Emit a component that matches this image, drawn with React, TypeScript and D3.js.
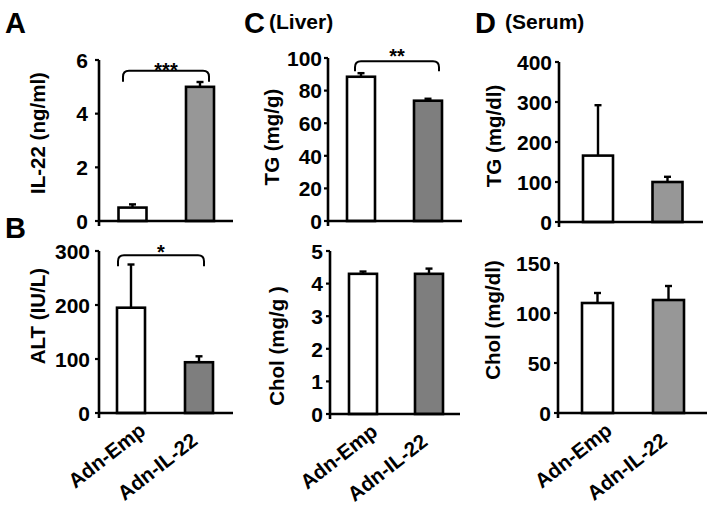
import React from "react";
import * as d3 from "d3";

// ---------- DATA ----------
const groups = ["Adn-Emp", "Adn-IL-22"];

const il22Mean = [0.5, 5.0];
const il22Err = [0.12, 0.18];
const il22Ticks = [0, 2, 4, 6];

const altMean = [195, 94];
const altErr = [80, 11];
const altTicks = [0, 100, 200, 300];

const liverTgMean = [88.5, 73.8];
const liverTgErr = [2.2, 1.2];
const liverTgTicks = [0, 20, 40, 60, 80, 100];

const liverCholMean = [4.3, 4.3];
const liverCholErr = [0.07, 0.16];
const liverCholTicks = [0, 1, 2, 3, 4, 5];

const serumTgMean = [166, 100];
const serumTgErr = [126, 13];
const serumTgTicks = [0, 100, 200, 300, 400];

const serumCholMean = [110, 113];
const serumCholErr = [10, 14];
const serumCholTicks = [0, 50, 100, 150];

const panelLetters = ["A", "B", "C", "D"];
const panelSubtitles = ["(Liver)", "(Serum)"];

// ---------- LAYOUT ----------
const FONT = "'Liberation Sans', Arial, Helvetica, sans-serif";
const GRAY_LIGHT = "#979797";
const GRAY_DARK = "#7e7e7e";

type PanelCfg = {
  mean: number[];
  err: number[];
  ticks: number[];
  yLabel: string;
  axisX: number;
  xEnd: number;
  y0: number;
  yTop: number;
  c1: number;
  c2: number;
  barW: number;
  fill: string;
  labelX: number;
  labelY: number;
  tickGap: number;
  showX?: boolean;
  bracket?: { value: number; off1: number; off2: number; drop: number; stars: string; starDy: number };
};

const panels: PanelCfg[] = [
  {
    mean: il22Mean, err: il22Err, ticks: il22Ticks, yLabel: "IL-22 (ng/ml)",
    axisX: 99, xEnd: 233, y0: 221, yTop: 60, c1: 132.5, c2: 200, barW: 28,
    fill: GRAY_LIGHT, labelX: 45, labelY: 133, tickGap: 11,
    bracket: { value: 5.6, off1: -9.5, off2: 9, drop: 11, stars: "***", starDy: 6 },
  },
  {
    mean: altMean, err: altErr, ticks: altTicks, yLabel: "ALT (IU/L)",
    axisX: 99, xEnd: 233, y0: 413, yTop: 251, c1: 131, c2: 199, barW: 28,
    fill: GRAY_DARK, labelX: 45, labelY: 316, tickGap: 9, showX: true,
    bracket: { value: 292, off1: -13, off2: 5, drop: 11, stars: "*", starDy: 4 },
  },
  {
    mean: liverTgMean, err: liverTgErr, ticks: liverTgTicks, yLabel: "TG (mg/g)",
    axisX: 328, xEnd: 462, y0: 221, yTop: 58, c1: 361, c2: 428, barW: 28,
    fill: GRAY_DARK, labelX: 279, labelY: 137, tickGap: 6,
    bracket: { value: 98, off1: -6, off2: 11, drop: 10, stars: "**", starDy: 2 },
  },
  {
    mean: liverCholMean, err: liverCholErr, ticks: liverCholTicks, yLabel: "Chol (mg/g )",
    axisX: 330, xEnd: 460, y0: 414, yTop: 251, c1: 363, c2: 429, barW: 28,
    fill: GRAY_DARK, labelX: 284, labelY: 346, tickGap: 7, showX: true,
  },
  {
    mean: serumTgMean, err: serumTgErr, ticks: serumTgTicks, yLabel: "TG (mg/dl)",
    axisX: 559, xEnd: 703, y0: 222, yTop: 62, c1: 598, c2: 667.5, barW: 30,
    fill: GRAY_LIGHT, labelX: 501, labelY: 136, tickGap: 7,
  },
  {
    mean: serumCholMean, err: serumCholErr, ticks: serumCholTicks, yLabel: "Chol (mg/dl)",
    axisX: 558, xEnd: 707, y0: 413, yTop: 263, c1: 597.5, c2: 668.5, barW: 31,
    fill: GRAY_LIGHT, labelX: 500, labelY: 320, tickGap: 7, showX: true,
  },
];

const xLabelOffsets = [
  { dx: 16, dy: 20 },
  { dx: 0, dy: 30 },
];

function Panel({ p }: { p: PanelCfg }) {
  const max = p.ticks[p.ticks.length - 1];
  const y = d3.scaleLinear().domain([0, max]).range([p.y0, p.yTop]);
  const x = d3.scalePoint<string>().domain(groups).range([p.c1, p.c2]);
  const fills = ["#ffffff", p.fill];
  const sw = 2.6;

  let bracketPath = "";
  let starX = 0;
  let starY = 0;
  if (p.bracket) {
    const b = p.bracket;
    const x1 = (x(groups[0]) as number) + b.off1;
    const x2 = (x(groups[1]) as number) + b.off2;
    const yb = y(b.value);
    const r = 6;
    const path = d3.path();
    path.moveTo(x1, yb + b.drop);
    path.lineTo(x1, yb + r);
    path.quadraticCurveTo(x1, yb, x1 + r, yb);
    path.lineTo(x2 - r, yb);
    path.quadraticCurveTo(x2, yb, x2, yb + r);
    path.lineTo(x2, yb + b.drop);
    bracketPath = path.toString();
    starX = (x1 + x2) / 2;
    starY = yb + b.starDy;
  }

  return (
    <g>
      {groups.map((g, i) => {
        const cx = x(g) as number;
        const top = y(p.mean[i]);
        const et = y(p.mean[i] + p.err[i]);
        return (
          <g key={g}>
            <line x1={cx} x2={cx} y1={top} y2={et} stroke="#000" strokeWidth={2.4} />
            <line x1={cx - 3.5} x2={cx + 3.5} y1={et} y2={et} stroke="#000" strokeWidth={2.4} />
            <rect
              x={cx - p.barW / 2}
              y={top}
              width={p.barW}
              height={p.y0 - top}
              fill={fills[i]}
              stroke="#000"
              strokeWidth={sw}
            />
          </g>
        );
      })}
      <line x1={p.axisX} x2={p.axisX} y1={p.yTop} y2={p.y0 + 5} stroke="#000" strokeWidth={2.6} />
      <line x1={p.axisX} x2={p.xEnd} y1={p.y0} y2={p.y0} stroke="#000" strokeWidth={2.6} />
      {p.ticks.map((t) => (
        <g key={t}>
          <line x1={p.axisX - 4} x2={p.axisX} y1={y(t)} y2={y(t)} stroke="#000" strokeWidth={2.2} />
          <text
            x={p.axisX - p.tickGap}
            y={y(t)}
            dy="0.37em"
            textAnchor="end"
            fontFamily={FONT}
            fontWeight="bold"
            fontSize={21}
            fill="#000"
          >
            {t}
          </text>
        </g>
      ))}
      <text
        transform={`translate(${p.labelX},${p.labelY}) rotate(-90)`}
        textAnchor="middle"
        fontFamily={FONT}
        fontWeight="bold"
        fontSize={20.5}
        fill="#000"
      >
        {p.yLabel}
      </text>
      {p.showX &&
        groups.map((g, i) => (
          <text
            key={g}
            transform={`translate(${(x(g) as number) + xLabelOffsets[i].dx},${p.y0 + xLabelOffsets[i].dy}) rotate(-38)`}
            textAnchor="end"
            fontFamily={FONT}
            fontWeight="bold"
            fontSize={20.5}
            fill="#000"
          >
            {g}
          </text>
        ))}
      {p.bracket && (
        <g>
          <path d={bracketPath} fill="none" stroke="#000" strokeWidth={2} />
          <text
            x={starX}
            y={starY}
            textAnchor="middle"
            fontFamily={FONT}
            fontWeight="bold"
            fontSize={20}
            fill="#000"
          >
            {p.bracket.stars}
          </text>
        </g>
      )}
    </g>
  );
}

export default function App() {
  return (
    <svg
      width={712}
      height={506}
      viewBox="0 0 712 506"
      style={{ position: "absolute", left: 0, top: 0, display: "block", background: "#fff" }}
    >
      <rect x={0} y={0} width={712} height={506} fill="#fff" />
      {panels.map((p, i) => (
        <Panel key={i} p={p} />
      ))}
      <text x={5} y={33} fontFamily={FONT} fontWeight="bold" fontSize={29}>{panelLetters[0]}</text>
      <text x={5} y={238} fontFamily={FONT} fontWeight="bold" fontSize={29}>{panelLetters[1]}</text>
      <text x={244} y={33} fontFamily={FONT} fontWeight="bold" fontSize={29}>{panelLetters[2]}</text>
      <text x={475} y={33} fontFamily={FONT} fontWeight="bold" fontSize={29}>{panelLetters[3]}</text>
      <text x={269} y={29} fontFamily={FONT} fontWeight="bold" fontSize={21}>{panelSubtitles[0]}</text>
      <text x={505} y={29} fontFamily={FONT} fontWeight="bold" fontSize={21}>{panelSubtitles[1]}</text>
    </svg>
  );
}
